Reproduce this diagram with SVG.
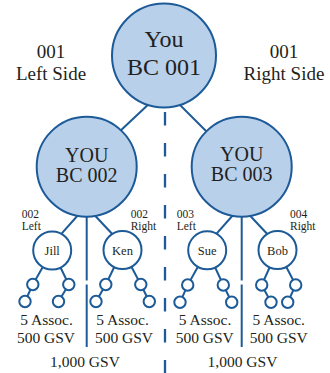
<svg xmlns="http://www.w3.org/2000/svg" width="330" height="373" viewBox="0 0 330 373">
<style>
.big{fill:#b8d0ea;stroke:#1d5a98;stroke-width:2}
.mid{fill:#ffffff;stroke:#1d5a98;stroke-width:2}
.sm{fill:#ffffff;stroke:#1d5a98;stroke-width:2}
.ln{stroke:#1d5a98;stroke-width:2;fill:none}
.dash{stroke:#1d5a98;stroke-width:2.3;stroke-dasharray:13.5 17.5;fill:none}
text{font-family:"Liberation Serif","Times New Roman",serif;fill:#231f20}
.c{text-anchor:middle}
.t1{font-size:24px}
.t2{font-size:20px}
.side{font-size:19px}
.lab{font-size:11.5px}
.nm{font-size:12.5px}
.bt{font-size:15.5px}
</style>
<rect width="330" height="373" fill="#ffffff"/>
<g id="connectors">
<line class="dash" x1="165" y1="112" x2="165" y2="373"/>
<line class="ln" x1="152" y1="101" x2="118" y2="133"/>
<line class="ln" x1="176" y1="101" x2="210" y2="135"/>
<line class="ln" x1="79" y1="214" x2="58" y2="237.6"/>
<line class="ln" x1="93.5" y1="214" x2="116" y2="238"/>
<line class="ln" x1="234" y1="214" x2="213" y2="237.6"/>
<line class="ln" x1="248.5" y1="214" x2="271" y2="238"/>
<line class="ln" x1="86.7" y1="210" x2="86.7" y2="280.5"/>
<line class="ln" x1="86.7" y1="284.5" x2="86.7" y2="347"/>
<line class="ln" x1="241.7" y1="210" x2="241.7" y2="280.5"/>
<line class="ln" x1="241.7" y1="284.5" x2="241.7" y2="347"/>
<line class="ln" x1="52.2" y1="250.5" x2="32.8" y2="284.5"/>
<line class="ln" x1="32.8" y1="284.5" x2="25" y2="301.5"/>
<line class="ln" x1="52.2" y1="250.5" x2="68.8" y2="284.5"/>
<line class="ln" x1="68.8" y1="284.5" x2="58.5" y2="301.5"/>
<line class="ln" x1="122.5" y1="250" x2="105.8" y2="284.5"/>
<line class="ln" x1="105.8" y1="284.5" x2="96" y2="301.5"/>
<line class="ln" x1="122.5" y1="250" x2="140.8" y2="284.5"/>
<line class="ln" x1="140.8" y1="284.5" x2="149.3" y2="301.5"/>
<line class="ln" x1="207.2" y1="250.3" x2="187.7" y2="285"/>
<line class="ln" x1="187.7" y1="285" x2="180" y2="302.3"/>
<line class="ln" x1="207.2" y1="250.3" x2="223.3" y2="285"/>
<line class="ln" x1="223.3" y1="285" x2="231.7" y2="302.3"/>
<line class="ln" x1="277.5" y1="250" x2="261.7" y2="285"/>
<line class="ln" x1="261.7" y1="285" x2="271" y2="302.3"/>
<line class="ln" x1="277.5" y1="250" x2="295.7" y2="285"/>
<line class="ln" x1="295.7" y1="285" x2="287.7" y2="302.3"/>
</g>
<g id="bc001">
<circle class="big" cx="164" cy="55.5" r="52"/>
<text class="c t1" x="164" y="46.5">You</text>
<text class="c t1" x="164" y="75">BC 001</text>
</g>
<g id="left-side">
<text class="c side" x="51" y="58.3">001</text>
<text class="c side" x="51" y="80">Left Side</text>
</g>
<g id="right-side">
<text class="c side" x="284" y="58.3">001</text>
<text class="c side" x="284" y="80">Right Side</text>
</g>
<g id="bc002">
<circle class="big" cx="86.7" cy="166.7" r="50"/>
<text class="c t2" x="86.7" y="161.5">YOU</text>
<text class="c t2" x="86.7" y="181.7">BC 002</text>
</g>
<g id="bc003">
<circle class="big" cx="241.7" cy="166.7" r="50"/>
<text class="c t2" x="241.7" y="161">YOU</text>
<text class="c t2" x="241.7" y="181.3">BC 003</text>
</g>
<g id="label-002-left">
<text class="lab" x="21.7" y="217.8">002</text>
<text class="lab" x="21.7" y="230">Left</text>
</g>
<g id="label-002-right">
<text class="lab" x="130.7" y="217.8">002</text>
<text class="lab" x="130.7" y="230">Right</text>
</g>
<g id="label-003-left">
<text class="lab" x="176.7" y="217.8">003</text>
<text class="lab" x="176.7" y="230">Left</text>
</g>
<g id="label-004-right">
<text class="lab" x="290" y="217.8">004</text>
<text class="lab" x="290" y="230">Right</text>
</g>
<g id="jill">
<circle class="mid" cx="52.2" cy="250.5" r="19"/>
<text class="c nm" x="52.2" y="254.8">Jill</text>
</g>
<g id="ken">
<circle class="mid" cx="122.5" cy="250" r="19"/>
<text class="c nm" x="122.5" y="254.5">Ken</text>
</g>
<g id="sue">
<circle class="mid" cx="207.2" cy="250.3" r="19"/>
<text class="c nm" x="207.2" y="255">Sue</text>
</g>
<g id="bob">
<circle class="mid" cx="277.5" cy="250" r="19"/>
<text class="c nm" x="277.5" y="254.5">Bob</text>
</g>
<g id="jill-downline">
<circle class="sm" cx="32.8" cy="284.5" r="5.7"/>
<circle class="sm" cx="25" cy="301.5" r="5.7"/>
<circle class="sm" cx="68.8" cy="284.5" r="5.7"/>
<circle class="sm" cx="58.5" cy="301.5" r="5.7"/>
</g>
<g id="ken-downline">
<circle class="sm" cx="105.8" cy="284.5" r="5.7"/>
<circle class="sm" cx="96" cy="301.5" r="5.7"/>
<circle class="sm" cx="140.8" cy="284.5" r="5.7"/>
<circle class="sm" cx="149.3" cy="301.5" r="5.7"/>
</g>
<g id="sue-downline">
<circle class="sm" cx="187.7" cy="285" r="5.7"/>
<circle class="sm" cx="180" cy="302.3" r="5.7"/>
<circle class="sm" cx="223.3" cy="285" r="5.7"/>
<circle class="sm" cx="231.7" cy="302.3" r="5.7"/>
</g>
<g id="bob-downline">
<circle class="sm" cx="261.7" cy="285" r="5.7"/>
<circle class="sm" cx="271" cy="302.3" r="5.7"/>
<circle class="sm" cx="295.7" cy="285" r="5.7"/>
<circle class="sm" cx="287.7" cy="302.3" r="5.7"/>
</g>
<g id="totals">
<text class="c bt" x="46.5" y="325">5 Assoc.</text>
<text class="c bt" x="46" y="342.7">500 GSV</text>
<text class="c bt" x="122.5" y="325">5 Assoc.</text>
<text class="c bt" x="124" y="342.7">500 GSV</text>
<text class="c bt" x="205" y="325">5 Assoc.</text>
<text class="c bt" x="204.7" y="342.7">500 GSV</text>
<text class="c bt" x="278.7" y="325">5 Assoc.</text>
<text class="c bt" x="278.7" y="342.7">500 GSV</text>
<text class="c bt" x="85" y="366.7">1,000 GSV</text>
<text class="c bt" x="242.5" y="366.7">1,000 GSV</text>
</g>
</svg>
